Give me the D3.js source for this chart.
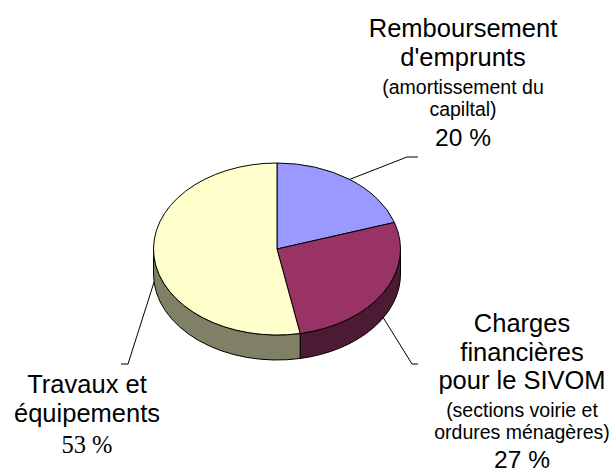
<!DOCTYPE html>
<html>
<head>
<meta charset="utf-8">
<script src="https://cdn.jsdelivr.net/npm/d3@7"></script>
<style>
  body { margin: 0; background: #fff; }
  svg { display: block; }
  .main { font-family: "Liberation Sans", Arial, sans-serif; font-size: 25.5px; }
  .note { font-family: "Liberation Sans", Arial, sans-serif; font-size: 19.5px; }
  .pct { font-family: "Liberation Sans", Arial, sans-serif; font-size: 24.5px; }
  .pct.serif { font-family: "Liberation Serif", "Times New Roman", serif; font-size: 24.5px; }
</style>
</head>
<body>
<div id="chart"></div>
<script>
// Chart data
const categories = ["Remboursement d'emprunts", "Charges financières pour le SIVOM", "Travaux et équipements"];
const values = [20, 27, 53];
const percentLabels = ["20 %", "27 %", "53 %"];
const titleLines = [["Remboursement", "d'emprunts"], ["Charges", "financières", "pour le SIVOM"], ["Travaux et", "équipements"]];
const noteLines = [["(amortissement du", "capiltal)"], ["(sections voirie et", "ordures ménagères)"], []];

// Size of the SVG container
const width = 613;
const height = 472;

// Pie geometry (ellipse seen at an angle, with a thickness)
const cx = 277, cy = 249, rx = 123.5, ry = 86, depth = 25;

const topColor = d3.scaleOrdinal().domain(categories).range(["#9999ff", "#993366", "#ffffcc"]);
const sideColor = d3.scaleOrdinal().domain(categories).range(["#4d4d80", "#4d1a33", "#808066"]);

// Label layout: leader elbow, leader end, text centre and first baseline
const labelLayout = [
  { elbow: [407, 157], end: [418, 157], x: 463, y: 37, pctGap: 30, serif: false },
  { elbow: [412, 364], end: [418, 364], x: 522, y: 332, pctGap: 28.5, serif: false },
  { elbow: [128, 364], end: [121, 364], x: 87, y: 393, pctGap: 31, serif: true }
];

const svg = d3.select("#chart")
  .append("svg")
  .attr("width", width)
  .attr("height", height);

// Point on the top ellipse for an angle measured clockwise from 12 o'clock
function pt(a, dy = 0) {
  return [cx + rx * Math.sin(a), cy - ry * Math.cos(a) + dy];
}

const pie = d3.pie().sort(null).value(d => d.value);
const slices = pie(categories.map((c, i) => ({ name: c, value: values[i], i: i })));

// Side walls: only the front half (angles between 90° and 270°) is visible
const sides = svg.append("g");
slices.forEach(s => {
  const a0 = Math.max(s.startAngle, Math.PI / 2);
  const a1 = Math.min(s.endAngle, 3 * Math.PI / 2);
  if (a1 <= a0) return;
  const p0 = pt(a0), p1 = pt(a1);
  const q0 = pt(a0, depth), q1 = pt(a1, depth);
  const large = (a1 - a0) > Math.PI ? 1 : 0;
  const d = `M${p0}A${rx},${ry} 0 ${large} 1 ${p1}L${q1}A${rx},${ry} 0 ${large} 0 ${q0}Z`;
  sides.append("path")
    .attr("d", d)
    .attr("fill", sideColor(s.data.name))
    .attr("stroke", "#000")
    .attr("stroke-width", 1)
    .attr("stroke-linejoin", "round");
});

// Top faces
const tops = svg.append("g");
slices.forEach(s => {
  const p0 = pt(s.startAngle), p1 = pt(s.endAngle);
  const large = (s.endAngle - s.startAngle) > Math.PI ? 1 : 0;
  tops.append("path")
    .attr("d", `M${cx},${cy}L${p0}A${rx},${ry} 0 ${large} 1 ${p1}Z`)
    .attr("fill", topColor(s.data.name))
    .attr("stroke", "#000")
    .attr("stroke-width", 1)
    .attr("stroke-linejoin", "round");
});

// Leader lines from each slice's middle to its label
const line = d3.line();
slices.forEach((s, i) => {
  const mid = (s.startAngle + s.endAngle) / 2;
  const start = pt(mid, Math.cos(mid) < 0 ? depth : 0);
  const lay = labelLayout[i];
  svg.append("path")
    .attr("d", line([start, lay.elbow, lay.end]))
    .attr("fill", "none")
    .attr("stroke", "#000")
    .attr("stroke-width", 1);
});

// Labels
slices.forEach((s, i) => {
  const lay = labelLayout[i];
  const g = svg.append("g").attr("text-anchor", "middle").attr("fill", "#000");
  let y = lay.y;
  titleLines[i].forEach((t, k) => {
    if (k > 0) y += 28.5;
    g.append("text").attr("class", "main").attr("x", lay.x).attr("y", y).text(t);
  });
  noteLines[i].forEach((t, k) => {
    y += k === 0 ? 28 : 22;
    g.append("text").attr("class", "note").attr("x", lay.x).attr("y", y).text(t);
  });
  y += lay.pctGap;
  g.append("text")
    .attr("class", lay.serif ? "pct serif" : "pct")
    .attr("x", lay.x).attr("y", y)
    .text(percentLabels[i]);
});
</script>
</body>
</html>
